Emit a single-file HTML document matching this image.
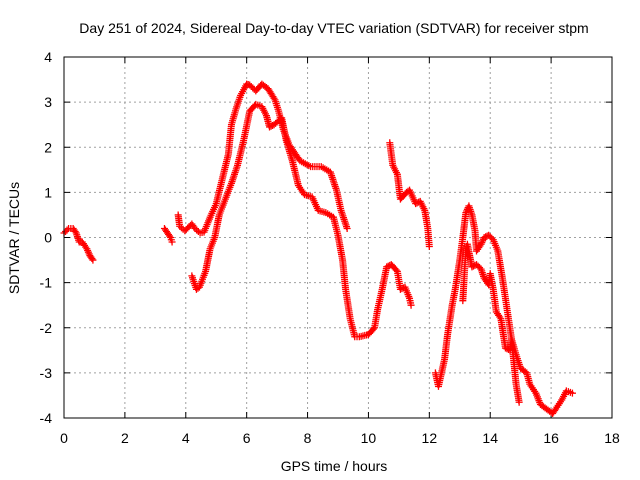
<!DOCTYPE html>
<html><head><meta charset="utf-8"><style>
body{margin:0;background:#fff;}
svg{display:block;font-family:"Liberation Sans",sans-serif;}
</style></head><body>
<svg id="chart" width="640" height="480">
<text x="334" y="33" font-size="14" text-anchor="middle">Day 251 of 2024, Sidereal Day-to-day VTEC variation (SDTVAR) for receiver stpm</text>
<text x="334" y="471" font-size="14" text-anchor="middle">GPS time / hours</text>
<text transform="translate(19,238) rotate(-90)" font-size="14" text-anchor="middle">SDTVAR / TECUs</text>
<g id="grid"></g><g id="ticks"></g><g id="marks"></g>
<rect x="64" y="57" width="548" height="361" fill="none" stroke="#000" stroke-width="1"/>
</svg>
<script>
const xTicks=[0,2,4,6,8,10,12,14,16,18];
const yTicks=[-4,-3,-2,-1,0,1,2,3,4];
const segA=[[0,0.1],[0.15,0.2],[0.3,0.2],[0.4,0.1],[0.5,-0.1],[0.6,-0.1],[0.75,-0.25],[0.85,-0.4],[0.95,-0.5]];
const segB=[[3.3,0.2],[3.4,0.1],[3.5,0.0],[3.55,-0.1]];
const segC=[[3.75,0.5],[3.8,0.25],[3.97,0.15],[4.2,0.3],[4.3,0.2],[4.47,0.1],[4.6,0.12],[4.8,0.45],[5.0,0.75],[5.2,1.3],[5.4,1.85],[5.5,2.5],[5.65,2.85],[5.8,3.15],[6.0,3.4],[6.1,3.38],[6.3,3.25],[6.5,3.4],[6.7,3.3],[6.93,3.05],[7.05,2.8],[7.2,2.4],[7.4,2.05],[7.75,1.7],[8.1,1.57],[8.45,1.57],[8.75,1.45],[8.95,1.05],[9.1,0.6],[9.3,0.2]];
const segD=[[4.2,-0.85],[4.35,-1.15],[4.45,-1.1],[4.65,-0.75],[4.8,-0.25],[4.95,0],[5.1,0.5],[5.3,0.85],[5.5,1.2],[5.7,1.6],[5.9,2.15],[6.1,2.8],[6.3,2.95],[6.5,2.9],[6.65,2.7],[6.75,2.45],[6.9,2.5],[7.15,2.65],[7.3,2.15],[7.5,1.7],[7.7,1.15],[7.9,0.95],[8.15,0.9],[8.35,0.6],[8.6,0.55],[8.85,0.45],[9.0,0.05],[9.15,-0.5],[9.25,-1.15],[9.4,-1.8],[9.55,-2.2],[9.7,-2.2],[10.0,-2.15],[10.2,-2.0],[10.3,-1.6],[10.45,-1.15],[10.6,-0.65],[10.75,-0.6],[10.95,-0.75],[11.05,-1.15],[11.2,-1.1],[11.35,-1.35],[11.4,-1.5]];
const segE=[[10.7,2.1],[10.8,1.6],[10.95,1.4],[11.05,0.85],[11.25,1.0],[11.35,1.05],[11.55,0.75],[11.7,0.8],[11.85,0.6],[11.95,0.2],[12.0,-0.2]];
const segF=[[12.2,-3.0],[12.3,-3.3],[12.5,-2.7],[12.6,-2.15],[12.75,-1.5],[12.85,-1.15],[13.0,-0.5],[13.1,0],[13.2,0.55],[13.3,0.7],[13.4,0.5],[13.5,0.15],[13.55,-0.3],[13.7,-0.15],[13.8,0],[13.95,0.05],[14.1,-0.05],[14.25,-0.3],[14.4,-0.9],[14.5,-1.35],[14.6,-1.8],[14.7,-2.25],[14.85,-2.6],[15.0,-2.9],[15.2,-3.0],[15.3,-3.25],[15.5,-3.45],[15.65,-3.7],[15.85,-3.8],[16.05,-3.9],[16.15,-3.8],[16.35,-3.6],[16.5,-3.4],[16.7,-3.45]];
const segG=[[13.1,-1.4],[13.2,-0.25],[13.25,-0.15],[13.4,-0.65],[13.55,-0.6],[13.7,-0.7],[13.8,-0.9],[13.95,-1.05],[14.0,-0.8],[14.1,-1.15],[14.2,-1.65],[14.35,-1.8],[14.5,-2.45],[14.65,-2.5],[14.7,-2.25],[14.85,-3.25],[14.95,-3.65]];
const series=[segA,segB,segC,segD,segE,segF,segG];
const X0=64,X1=612,Y0=418,Y1=57;
const xs=t=>X0+(t-0)/(18-0)*(X1-X0);
const ys=v=>Y0-(v+4)/8*(Y0-Y1);
const NS="http://www.w3.org/2000/svg";
const grid=document.getElementById('grid'),ticks=document.getElementById('ticks'),marks=document.getElementById('marks');
function mk(tag,attrs,parent){const e=document.createElementNS(NS,tag);for(const k in attrs)e.setAttribute(k,attrs[k]);parent.appendChild(e);return e;}
xTicks.forEach(t=>{const x=xs(t);
 if(t>0&&t<18){const g=mk('line',{x1:x,x2:x,y1:Y1,y2:Y0,stroke:'#a0a0a0','stroke-dasharray':'2,3'},grid);
 
 }
 mk('line',{x1:x,x2:x,y1:Y0,y2:Y0-6,stroke:'#000'},ticks);mk('line',{x1:x,x2:x,y1:Y1,y2:Y1+6,stroke:'#000'},ticks);
 const l=mk('text',{x:x,y:443,'font-size':14,'text-anchor':'middle'},ticks);l.textContent=t;
 
 });
yTicks.forEach(v=>{const y=ys(v);
 if(v>-4&&v<4){const g=mk('line',{x1:X0,x2:X1,y1:y,y2:y,stroke:'#a0a0a0','stroke-dasharray':'2,3'},grid);
 
 }
 mk('line',{x1:X0,x2:X0+6,y1:y,y2:y,stroke:'#000'},ticks);mk('line',{x1:X1,x2:X1-6,y1:y,y2:y,stroke:'#000'},ticks);
 const l=mk('text',{x:52,y:y+5,'font-size':14,'text-anchor':'end'},ticks);l.textContent=v;
 
 });
series.forEach((seg,i)=>{
 const g=mk('g',{stroke:'#f00','stroke-width':1.3,fill:'none'},marks);
 
 
 let d='';
 for(let k=0;k<seg.length;k++){
  const x=xs(seg[k][0]),y=ys(seg[k][1]);
  if(k>0){const px=xs(seg[k-1][0]),py=ys(seg[k-1][1]);const L=Math.hypot(x-px,y-py);const n=Math.max(1,Math.round(L/2));
   for(let j=1;j<n;j++){const qx=px+(x-px)*j/n,qy=py+(y-py)*j/n;d+=`M${qx-3.5},${qy}h7M${qx},${qy-3.5}v7`;}}
  d+=`M${x-3.5},${y}h7M${x},${y-3.5}v7`;
 }
 mk('path',{d:d},g);
});
</script>
</body></html>
